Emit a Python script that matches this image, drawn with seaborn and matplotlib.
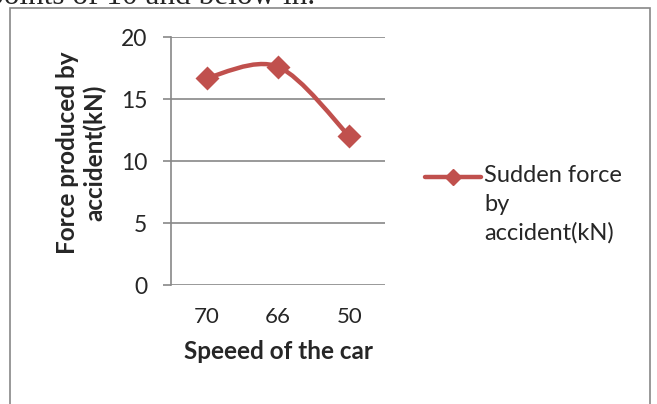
import matplotlib
matplotlib.use("Agg")
import matplotlib.pyplot as plt
import seaborn as sns
import numpy as np
from matplotlib.path import Path
from matplotlib.patches import PathPatch, Rectangle
from matplotlib.lines import Line2D

# data
speeds = ["70", "66", "50"]
forces = [16.7, 17.6, 12.0]
y_ticks = [0, 5, 10, 15, 20]
series_name = "Sudden force\nby\naccident(kN)"

red = "#C0504D"
grid_col = "#878787"

sns.set_style("white")
plt.rcParams['font.family'] = ['Lato', 'DejaVu Sans']

fig = plt.figure(figsize=(6.57, 4.04), dpi=100)
ax = fig.add_axes([171/657, 1 - 285/404, 214/657, 248/404])

# markers
sns.pointplot(x=speeds, y=forces, order=speeds, color=red, marker="D",
              markersize=10, linestyle="none", ax=ax, zorder=4)

# smoothed line (excel style catmull-rom curve through the points)
xs = np.arange(len(forces), dtype=float)
ys = np.array(forces)
pts = np.column_stack([xs, ys])
verts = [pts[0]]
codes = [Path.MOVETO]
for i in range(len(pts) - 1):
    p0 = pts[max(i - 1, 0)]
    p1 = pts[i]
    p2 = pts[i + 1]
    p3 = pts[min(i + 2, len(pts) - 1)]
    verts += [p1 + (p2 - p0) / 6, p2 - (p3 - p1) / 6, p2]
    codes += [Path.CURVE4] * 3
ax.add_patch(PathPatch(Path(verts, codes), facecolor="none", edgecolor=red,
                       lw=3.2, capstyle="round", zorder=3))

ax.set_xlim(-0.5, len(speeds) - 0.5)
ax.set_ylim(0, 20)
ax.set_yticks(y_ticks)
ax.yaxis.grid(True, color=grid_col, lw=1.2)
ax.set_axisbelow(True)
for s in ["top", "right", "bottom"]:
    ax.spines[s].set_visible(False)
ax.spines["left"].set_color(grid_col)
ax.spines["left"].set_linewidth(1.2)
ax.tick_params(axis="y", which="major", left=True, length=6, width=1.2,
               color=grid_col, labelsize=16.5, pad=11)
ax.tick_params(axis="x", bottom=False, labelsize=16, pad=12)

ax.set_xlabel("Speeed of the car", fontsize=17.5, fontweight="bold", labelpad=10)
ax.set_ylabel("Force produced by\naccident(kN)", fontsize=17.5,
              fontweight="bold", linespacing=1.2)
ax.yaxis.set_label_coords(-0.30, 0.532)

# legend, drawn by hand so the sample sits on the first text line
leg_y = 1 - 177/404
fig.add_artist(Line2D([425/657, 481/657], [leg_y, leg_y], color=red, lw=3.2,
                      solid_capstyle="round", transform=fig.transFigure))
fig.add_artist(Line2D([453/657], [leg_y], color=red, marker="D",
                      markersize=8, transform=fig.transFigure))
fig.text(484/657, 1 - 165/404, series_name, fontsize=17, va="top",
         ha="left", linespacing=1.45)

# chart border
fig.patches.append(Rectangle((10/657, -0.05), 640/657, 1 - 8/404 + 0.05,
                             transform=fig.transFigure, fill=False,
                             edgecolor=grid_col, lw=1.2))

# cut off line of text above the chart
fig.text(-12/657, 1 - 4/404, "points of 10 and below in.", fontsize=22.5,
         family="Liberation Serif", va="baseline", ha="left")

fig.savefig("out.png", dpi=100)
